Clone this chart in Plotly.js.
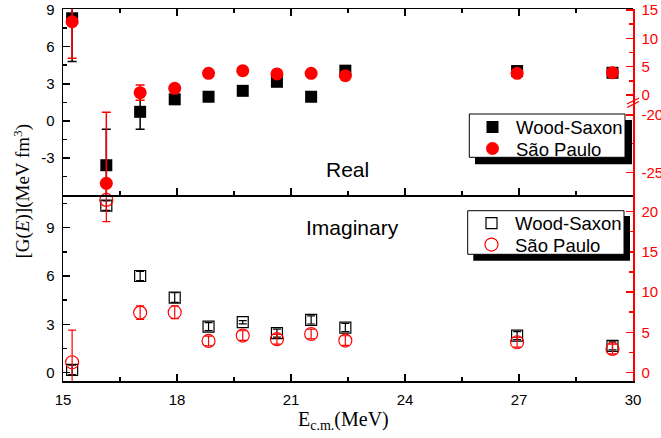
<!DOCTYPE html>
<html>
<head>
<meta charset="utf-8">
<script src="https://cdn.plot.ly/plotly-3.0.1.min.js"></script>
<style>html,body{margin:0;padding:0;background:#fff;}#chart{width:661px;height:438px;}</style>
</head>
<body>
<div id="chart"></div>
<script>
// ---- data ----
const energy = [15.24, 16.14, 17.03, 17.94, 18.83, 19.73, 20.63, 21.53, 22.43, 26.95, 29.46];
const wsReal = [8.3, -3.59, 0.73, 1.74, 1.95, 2.43, 3.16, 1.95, 4.06, 4.03, 3.89];
const wsRealErr = [3.5, 2.9, 1.4, 0.3, 0.3, 0.3, 0.3, 0.3, 0.3, 0.3, 0.3];
const spReal = [12.94, -25.96, 0.41, 1.18, 3.83, 4.29, 3.71, 3.83, 3.41, 3.83, 3.94];
const spRealErr = [6.46, 6.2, 1.35, 0.5, 0.5, 0.5, 0.5, 0.5, 0.5, 0.5, 0.5];
const wsImag = [0.17, 10.37, 6.0, 4.66, 2.86, 3.13, 2.45, 3.27, 2.8, 2.3, 1.66];
const wsImagErr = [0.3, 0.3, 0.28, 0.3, 0.25, 0.1, 0.25, 0.25, 0.25, 0.25, 0.25];
const spImag = [1.29, 21.45, 7.45, 7.5, 3.94, 4.6, 4.15, 4.8, 3.98, 3.77, 2.94];
const spImagErr = [4.0, 2.7, 0.85, 0.8, 0.6, 0.6, 0.6, 0.6, 0.6, 0.6, 0.6];
const seriesNames = ['Wood-Saxon', 'São Paulo'];
const xTicks = [15, 18, 21, 24, 27, 30];
const yRealTicks = [-3, 0, 3, 6, 9];
const yRealTickText = ['-3', '0', '3', '6', '9'];
const yRealRightUpperTicks = [0, 5, 10, 15];
const yRealRightLowerTicks = [-20, -25];
const yRealRightLowerText = ['-20', '-25'];
const yImagTicks = [0, 3, 6, 9];
const yImagRightTicks = [0, 5, 10, 15, 20];

// ---- split São Paulo real values across the broken right axis ----
const BREAK = -10;
const spUpX = [], spUpY = [], spUpE = [], spLoX = [], spLoY = [], spLoE = [];
spReal.forEach((v, i) => {
  if (v > BREAK) { spUpX.push(energy[i]); spUpY.push(v); spUpE.push(spRealErr[i]); }
  else { spLoX.push(energy[i]); spLoY.push(v); spLoE.push(spRealErr[i]); }
});

const RED = '#ff0000';
const SANS = 'Arial, Liberation Sans, sans-serif';
const SERIF = 'Times New Roman, Liberation Serif, serif';

// pixel -> paper helpers (plot area 63..633 x 9..381)
const L = 63, T = 9, W = 570, H = 372;
const PX = p => (p - L) / W;
const PY = p => (T + H - p) / H;

const traces = [
  { x: energy, y: wsReal, xaxis: 'x2', yaxis: 'y', name: seriesNames[0], type: 'scatter', mode: 'markers',
    marker: { symbol: 'square', size: 12, color: '#000' }, cliponaxis: false, legend: 'legend',
    error_y: { type: 'data', array: wsRealErr, color: '#000', thickness: 1.5, width: 4.5 } },
  { x: spUpX, y: spUpY, xaxis: 'x2', yaxis: 'y2', name: seriesNames[1], type: 'scatter', mode: 'markers',
    marker: { symbol: 'circle', size: 13, color: RED }, cliponaxis: false, legend: 'legend2',
    error_y: { type: 'data', array: spUpE, color: RED, thickness: 1.5, width: 4.5 } },
  { x: spLoX, y: spLoY, xaxis: 'x2', yaxis: 'y3', name: seriesNames[1], type: 'scatter', mode: 'markers', showlegend: false,
    marker: { symbol: 'circle', size: 13, color: RED }, cliponaxis: false,
    error_y: { type: 'data', array: spLoE, color: RED, thickness: 1.5, width: 4.5 } },
  { x: energy, y: wsImag, xaxis: 'x', yaxis: 'y4', name: seriesNames[0], type: 'scatter', mode: 'markers',
    marker: { symbol: 'square-open', size: 11, color: '#000', line: { width: 1.2 } }, cliponaxis: false, legend: 'legend3',
    error_y: { type: 'data', array: wsImagErr, color: '#000', thickness: 1.2, width: 4 } },
  { x: energy, y: spImag, xaxis: 'x', yaxis: 'y5', name: seriesNames[1], type: 'scatter', mode: 'markers',
    marker: { symbol: 'circle-open', size: 13, color: RED, line: { width: 1.2 } }, cliponaxis: false, legend: 'legend4',
    error_y: { type: 'data', array: spImagErr, color: RED, thickness: 1.2, width: 4 } }
];

const tickFont = { family: SANS, size: 15, color: '#000' };
const redTickFont = { family: SANS, size: 15, color: RED };
const baseAxis = { showgrid: false, zeroline: false, showline: true, linewidth: 1.5, ticks: 'inside', ticklen: 7, tickwidth: 1.5 };
const xMinor = { tickmode: 'linear', tick0: 15, dtick: 1.5, ticks: 'inside', ticklen: 4, tickwidth: 1.5, tickcolor: '#000' };
const legendItem = (left, top) => ({ x: PX(left), y: PY(top), xanchor: 'left', yanchor: 'top', bgcolor: 'rgba(0,0,0,0)',
  borderwidth: 0, font: { family: SANS, size: 18.5, color: '#000' }, itemwidth: 37 });

const layout = {
  width: 661, height: 438,
  margin: { l: L, r: 661 - L - W, t: T, b: 438 - T - H },
  paper_bgcolor: '#fff', plot_bgcolor: 'rgba(0,0,0,0)',
  showlegend: true,
  xaxis: Object.assign({}, baseAxis, { domain: [0, 1], anchor: 'y4', range: [15, 30], tickmode: 'array', tickvals: xTicks,
    linecolor: '#000', tickcolor: '#000', tickfont: tickFont, ticklabelstandoff: 4, minor: xMinor }),
  xaxis3: Object.assign({}, baseAxis, { overlaying: 'x', anchor: 'y4', side: 'top', matches: 'x', range: [15, 30], tickmode: 'array',
    tickvals: xTicks, showline: false, showticklabels: false, tickcolor: '#000', minor: xMinor }),
  xaxis2: Object.assign({}, baseAxis, { domain: [0, 1], anchor: 'y', matches: 'x', range: [15, 30], tickmode: 'array', tickvals: xTicks,
    showticklabels: false, mirror: 'ticks', linecolor: '#000', tickcolor: '#000', minor: xMinor }),
  yaxis: Object.assign({}, baseAxis, { domain: [0.5, 1], anchor: 'x2', range: [-6, 9.05], tickmode: 'array', tickvals: yRealTicks,
    ticktext: yRealTickText, linecolor: '#000', tickcolor: '#000', tickfont: tickFont, ticklabelstandoff: 4,
    minor: { tickmode: 'linear', tick0: 0, dtick: 1.5, ticks: 'inside', ticklen: 4, tickwidth: 1.5, tickcolor: '#000' } }),
  yaxis2: Object.assign({}, baseAxis, { domain: [PY(102), 1], anchor: 'x2', side: 'right', range: [-1.24, 15.18], tickmode: 'array',
    tickvals: yRealRightUpperTicks, linecolor: RED, tickcolor: RED, tickfont: redTickFont, ticklabelstandoff: 4,
    minor: { tickmode: 'linear', tick0: 0, dtick: 2.5, ticks: 'inside', ticklen: 4, tickwidth: 1.5, tickcolor: RED } }),
  yaxis3: Object.assign({}, baseAxis, { domain: [0.5, PY(102)], anchor: 'x2', side: 'right', range: [-26.98, -18.87], tickmode: 'array',
    tickvals: yRealRightLowerTicks, ticktext: yRealRightLowerText, linecolor: RED, tickcolor: RED, tickfont: redTickFont, ticklabelstandoff: 4,
    minor: { tickmode: 'linear', tick0: 0, dtick: 2.5, ticks: 'inside', ticklen: 4, tickwidth: 1.5, tickcolor: RED } }),
  yaxis4: Object.assign({}, baseAxis, { domain: [0, 0.5], anchor: 'x', range: [-0.52, 11.03], tickmode: 'array', tickvals: yImagTicks,
    linecolor: '#000', tickcolor: '#000', tickfont: tickFont, ticklabelstandoff: 4,
    minor: { tickmode: 'linear', tick0: 0, dtick: 1.5, ticks: 'inside', ticklen: 4, tickwidth: 1.5, tickcolor: '#000' } }),
  yaxis5: Object.assign({}, baseAxis, { overlaying: 'y4', anchor: 'x', side: 'right', range: [-1.04, 22.06], tickmode: 'array',
    tickvals: yImagRightTicks, linecolor: RED, tickcolor: RED, tickfont: redTickFont, ticklabelstandoff: 4,
    minor: { tickmode: 'linear', tick0: 0, dtick: 2.5, ticks: 'inside', ticklen: 4, tickwidth: 1.5, tickcolor: RED } }),
  legend: legendItem(469, 108.5),
  legend2: legendItem(469, 130),
  legend3: legendItem(468, 204.5),
  legend4: legendItem(468, 226),
  shapes: [
    // legend shadows and boxes
    { type: 'rect', xref: 'paper', yref: 'paper', x0: PX(475), x1: PX(632), y0: PY(164.3), y1: PY(120), fillcolor: '#000', line: { width: 0 }, layer: 'above' },
    { type: 'rect', xref: 'paper', yref: 'paper', x0: PX(469.3), x1: PX(625), y0: PY(157.3), y1: PY(114), fillcolor: '#fff', line: { color: '#000', width: 1 }, layer: 'above' },
    { type: 'rect', xref: 'paper', yref: 'paper', x0: PX(473.3), x1: PX(630), y0: PY(260.7), y1: PY(216), fillcolor: '#000', line: { width: 0 }, layer: 'above' },
    { type: 'rect', xref: 'paper', yref: 'paper', x0: PX(467.7), x1: PX(624), y0: PY(254.3), y1: PY(210.7), fillcolor: '#fff', line: { color: '#000', width: 1 }, layer: 'above' },
    // axis break marks
    { type: 'line', xref: 'paper', yref: 'paper', x0: PX(627), x1: PX(639), y0: PY(104), y1: PY(98), line: { color: RED, width: 1.3 } },
    { type: 'line', xref: 'paper', yref: 'paper', x0: PX(627), x1: PX(639), y0: PY(107.5), y1: PY(101.5), line: { color: RED, width: 1.3 } }
  ],
  annotations: [
    { text: 'Real', xref: 'paper', yref: 'paper', x: PX(347), y: PY(170), xanchor: 'center', yanchor: 'middle', showarrow: false,
      font: { family: SANS, size: 21, color: '#000' } },
    { text: 'Imaginary', xref: 'paper', yref: 'paper', x: PX(352), y: PY(228), xanchor: 'center', yanchor: 'middle', showarrow: false,
      font: { family: SANS, size: 21, color: '#000' } },
    { text: '[G(<i>E</i>)](MeV fm<sup>3</sup>)', xref: 'paper', yref: 'paper', x: PX(21.5), y: PY(191), xanchor: 'center', yanchor: 'middle',
      textangle: -90, showarrow: false, font: { family: SERIF, size: 19, color: '#000' } },
    { text: 'E<sub>c.m.</sub>(MeV)', xref: 'paper', yref: 'paper', x: PX(343), y: PY(421), xanchor: 'center', yanchor: 'middle', showarrow: false,
      font: { family: SERIF, size: 20, color: '#000' } }
  ]
};

Plotly.newPlot('chart', traces, layout, { displayModeBar: false, staticPlot: true });
</script>
</body>
</html>
